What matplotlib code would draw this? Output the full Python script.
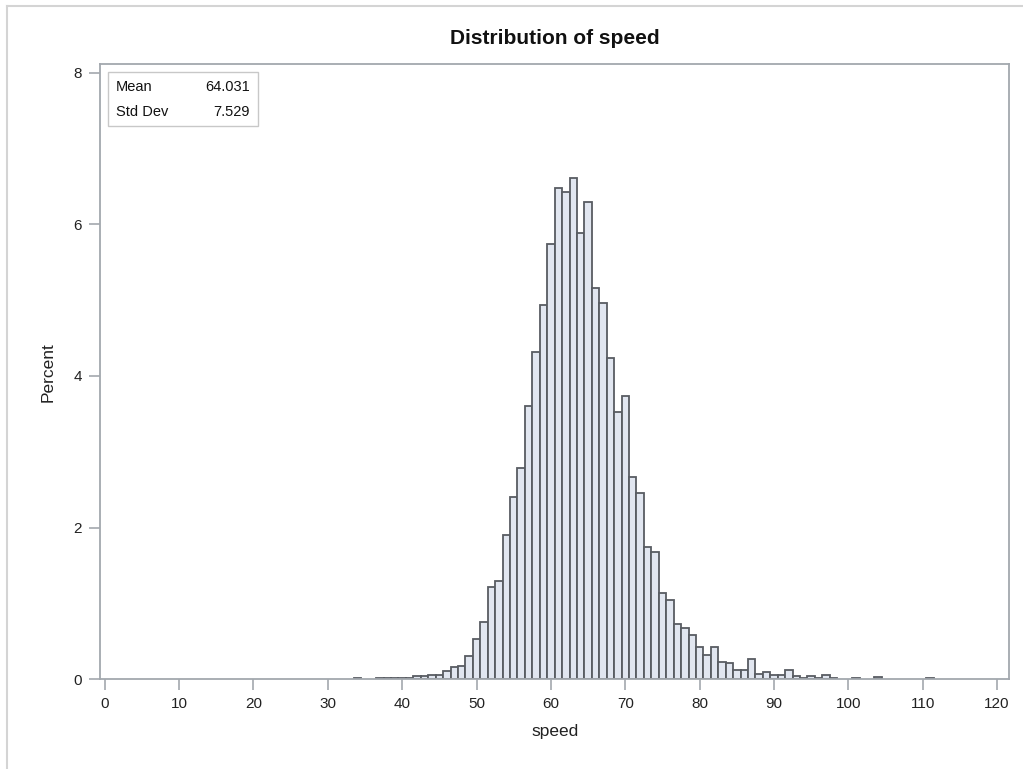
import matplotlib
matplotlib.use("Agg")
import matplotlib.pyplot as plt
from matplotlib.lines import Line2D
from matplotlib.patches import Rectangle

# Bin midpoints (width 1) and percent per bin
speed_bins = [34, 37, 38, 39, 40, 41, 42, 43, 44, 45, 46, 47, 48, 49, 50,
              51, 52, 53, 54, 55, 56, 57, 58, 59,
              60, 61, 62, 63, 64, 65, 66, 67, 68, 69,
              70, 71, 72, 73, 74, 75, 76, 77, 78, 79,
              80, 81, 82, 83, 84, 85, 86, 87, 88, 89,
              90, 91, 92, 93, 94, 95, 96, 97, 98, 101, 104, 111]
percent = [0.02, 0.02, 0.02, 0.02, 0.02, 0.02, 0.04, 0.04, 0.06, 0.06, 0.105, 0.16, 0.18, 0.31, 0.53,
           0.76, 1.22, 1.30, 1.90, 2.41, 2.79, 3.61, 4.32, 4.94,
           5.74, 6.48, 6.43, 6.61, 5.89, 6.29, 5.16, 4.96, 4.24, 3.52,
           3.73, 2.67, 2.46, 1.75, 1.68, 1.14, 1.05, 0.73, 0.675, 0.59,
           0.42, 0.32, 0.42, 0.23, 0.21, 0.12, 0.12, 0.27, 0.075, 0.10,
           0.06, 0.06, 0.12, 0.04, 0.02, 0.04, 0.02, 0.06, 0.02, 0.012, 0.035, 0.012]

x_ticks = list(range(0, 121, 10))
y_ticks = [0, 2, 4, 6, 8]
title = "Distribution of speed"
stat_labels = ["Mean", "Std Dev"]
stat_values = ["64.031", "7.529"]

plt.rcParams['font.family'] = ['Liberation Sans', 'DejaVu Sans']

W, H = 1023, 769
fig = plt.figure(figsize=(W / 100, H / 100), dpi=100)

left, right, top, bottom = 100.3, 1009, 64.3, 679.3
ax = fig.add_axes([left / W, 1 - bottom / H, (right - left) / W, (bottom - top) / H])

frame_col = '#A3A8AE'
ax.bar(speed_bins, percent, width=1.0, align='center',
       facecolor='#E1E6F0', edgecolor='#585C62', linewidth=1.3, zorder=2)

ax.set_xlim(-0.6, 121.6)
ax.set_ylim(0, 8.11)
ax.set_xticks(x_ticks)
ax.set_yticks(y_ticks)
ax.tick_params(axis='both', direction='out', length=8, width=1.2, color=frame_col,
               labelsize=11, labelcolor='#222222', pad=5)
for s in ax.spines.values():
    s.set_color(frame_col)
    s.set_linewidth(1.3)

ax.set_xlabel("speed", fontsize=12.5, color='#222222', labelpad=9)
ax.set_ylabel("Percent", fontsize=12.5, color='#222222', labelpad=13)
fig.text((left + right) / 2 / W, 1 - 38 / H, title, ha='center', va='center',
         fontsize=15, fontweight='bold', color='#111111')

# Stats inset box
bx0, by0, bx1, by1 = 108.3, 71.7, 258.3, 126
fig.patches.append(Rectangle((bx0 / W, 1 - by1 / H), (bx1 - bx0) / W, (by1 - by0) / H,
                             transform=fig.transFigure, facecolor='white',
                             edgecolor='#C8C8C8', linewidth=1.0, zorder=5))
rows_y = [86.7, 111.7]
for lab, val, yy in zip(stat_labels, stat_values, rows_y):
    fig.text(115.5 / W, 1 - yy / H, lab, ha='left', va='center', fontsize=10.5, color='#111111', zorder=6)
    fig.text(250 / W, 1 - yy / H, val, ha='right', va='center', fontsize=10.5, color='#111111', zorder=6)

# Outer light border (top and left)
fig.add_artist(Line2D([7 / W, 1], [1 - 6 / H, 1 - 6 / H], transform=fig.transFigure,
                      color='#D4D4D4', linewidth=1.5))
fig.add_artist(Line2D([7 / W, 7 / W], [0, 1 - 6 / H], transform=fig.transFigure,
                      color='#D4D4D4', linewidth=1.5))

fig.savefig("out.png", dpi=100)
